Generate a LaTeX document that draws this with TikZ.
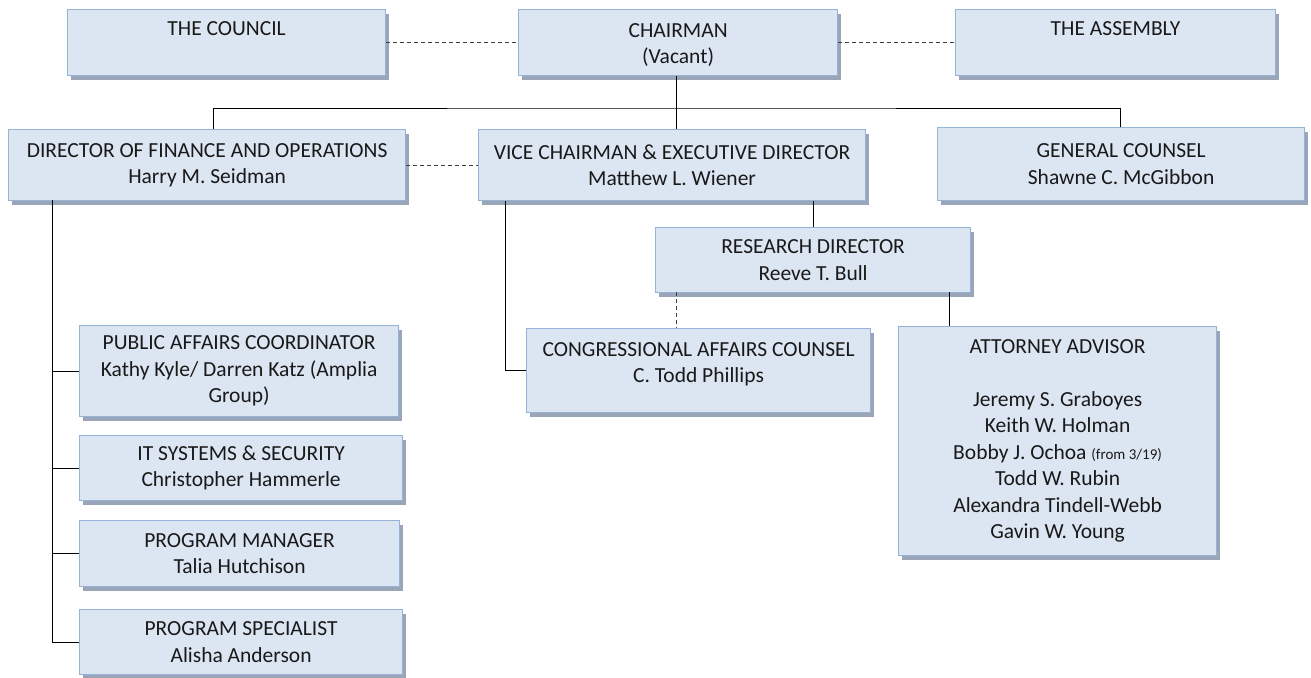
\documentclass[tikz,border=0pt]{standalone}
\usepackage{fontspec}
\setmainfont{Carlito}
\usepackage{xcolor}
\usetikzlibrary{positioning, calc, shadows}

\definecolor{boxfill}{HTML}{DCE6F2}
\definecolor{boxline}{HTML}{95B3D7}
\definecolor{shadowcol}{HTML}{9AA6B8}
\definecolor{dashcol}{HTML}{404040}

\tikzset{
  orgbox/.style={draw=boxline, fill=boxfill, line width=1.2pt, anchor=north west,
    align=center, inner sep=0pt, text=black!90,
    font=\fontsize{21.5}{26.5}\selectfont,
    drop shadow={shadow xshift=3pt, shadow yshift=-4pt, fill=shadowcol, opacity=1}},
  solidlink/.style={draw=black, line width=1pt},
  dashlink/.style={draw=dashcol, line width=1pt, dash pattern=on 4pt off 3pt}
}

\begin{document}
\begin{tikzpicture}[x=1pt, y=-1pt]
\useasboundingbox (0,0) rectangle (1311,677);

% top row
\node[orgbox, minimum width=318pt, minimum height=66pt] (council) at (67,9) {\rule{0pt}{20pt}THE COUNCIL\\ \strut};
\node[orgbox, minimum width=319pt, minimum height=66pt] (chair) at (518,9) {\rule{0pt}{19pt}CHAIRMAN\\(Vacant)};
\node[orgbox, minimum width=320pt, minimum height=66pt] (assembly) at (955,9) {\rule{0pt}{20pt}THE ASSEMBLY\\ \strut};

% second row
\node[orgbox, minimum width=397pt, minimum height=71pt] (dfo) at (8,129) {DIRECTOR OF FINANCE AND OPERATIONS\\Harry M. Seidman};
\node[orgbox, minimum width=387pt, minimum height=71pt] (vc) at (478,129) {VICE CHAIRMAN \& EXECUTIVE DIRECTOR\\Matthew L. Wiener};
\node[orgbox, minimum width=367pt, minimum height=73pt] (gc) at (937,127) {GENERAL COUNSEL\\Shawne C. McGibbon};

% research branch
\node[orgbox, minimum width=315pt, minimum height=65pt] (rd) at (655,227) {RESEARCH DIRECTOR\\Reeve T. Bull};
\node[orgbox, minimum width=344pt, minimum height=84pt] (cac) at (526,328) {CONGRESSIONAL AFFAIRS COUNSEL\\C. Todd Phillips\rule[-16pt]{0pt}{16pt}};
\node[orgbox, minimum width=318pt, minimum height=229pt] (aa) at (898,326)
  {ATTORNEY ADVISOR\\ \strut\\Jeremy S. Graboyes\\Keith W. Holman\\Bobby J. Ochoa {\fontsize{15}{26.5}\selectfont(from 3/19)}\\Todd W. Rubin\\Alexandra Tindell-Webb\\Gavin W. Young};

% finance branch
\node[orgbox, minimum width=319pt, minimum height=91pt] (pac) at (79,325) {PUBLIC AFFAIRS COORDINATOR\\Kathy Kyle/ Darren Katz (Amplia\\Group)};
\node[orgbox, minimum width=323pt, minimum height=65pt] (it) at (79,435) {IT SYSTEMS \& SECURITY\\Christopher Hammerle};
\node[orgbox, minimum width=320pt, minimum height=66pt] (pm) at (79,520) {PROGRAM MANAGER\\Talia Hutchison};
\node[orgbox, minimum width=323pt, minimum height=65pt] (ps) at (79,609) {PROGRAM SPECIALIST\\Alisha Anderson};

% dashed links
\draw[dashlink] (council.east) -- (chair.west);
\draw[dashlink] (chair.east) -- (assembly.west);
\draw[dashlink] (dfo.east) -- (vc.west);

% chairman branch
\coordinate (bar) at (676,108);
\draw[solidlink] (chair.south -| bar) -- (vc.north -| bar);
\draw[solidlink] ([xshift=6pt]dfo.north) |- (bar) -| ([xshift=-1pt]gc.north);

% vice chairman branch
\draw[solidlink] (rd.north) -- (rd.north |- vc.south);
\draw[solidlink] ([xshift=27pt]vc.south west) |- (cac.west);
\coordinate (rdleft) at (676,292);
\draw[dashlink] (rdleft) -- (rdleft |- cac.north);
\coordinate (rdright) at (949,292);
\draw[solidlink] (rdright) -- (rdright |- aa.north);

% finance staff
\coordinate (spine) at (52,200);
\draw[solidlink] (spine) -- (spine |- ps.west);
\foreach \n in {pac, it, pm, ps}
  \draw[solidlink] (spine |- \n.west) -- (\n.west);
\end{tikzpicture}
\end{document}
